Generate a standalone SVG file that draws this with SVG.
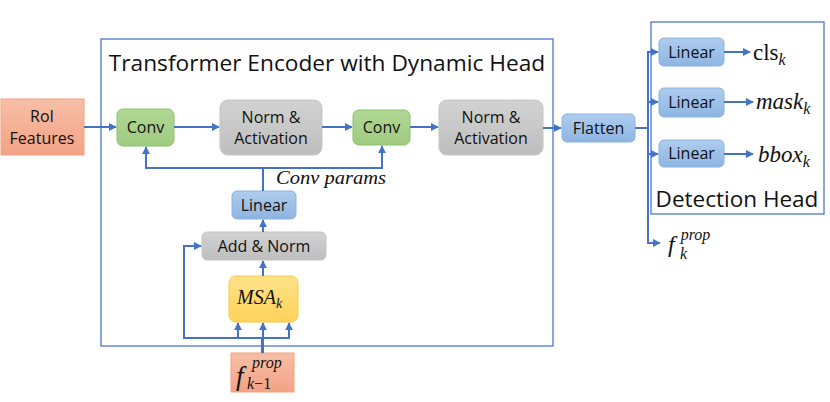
<svg xmlns="http://www.w3.org/2000/svg" width="830" height="402" viewBox="0 0 830 402">
<defs>
<linearGradient id="gSalmon" x1="0" y1="0" x2="0" y2="1"><stop offset="0" stop-color="#F7BFA6"/><stop offset="1" stop-color="#F3A285"/></linearGradient>
<linearGradient id="gGreen" x1="0" y1="0" x2="0" y2="1"><stop offset="0" stop-color="#B0D894"/><stop offset="1" stop-color="#9FCB80"/></linearGradient>
<linearGradient id="gGray" x1="0" y1="0" x2="0" y2="1"><stop offset="0" stop-color="#D2D2D2"/><stop offset="1" stop-color="#BEBEBE"/></linearGradient>
<linearGradient id="gBlue" x1="0" y1="0" x2="0" y2="1"><stop offset="0" stop-color="#AFCDEE"/><stop offset="1" stop-color="#8DB5E2"/></linearGradient>
<linearGradient id="gYellow" x1="0" y1="0" x2="0" y2="1"><stop offset="0" stop-color="#FFE28A"/><stop offset="1" stop-color="#FFD25A"/></linearGradient>
<marker id="ah" viewBox="0 0 10 10" refX="9" refY="5" markerWidth="4" markerHeight="4" orient="auto" markerUnits="strokeWidth">
<path d="M0,0 L10,5 L0,10 z" fill="#4472C4"/></marker>
</defs>
<style>
.frame{fill:none;stroke:#4A78C8;stroke-width:1.3}
.salmon{fill:url(#gSalmon);stroke:#F0A27E;stroke-width:1}
.green{fill:url(#gGreen);stroke:#8CC06A;stroke-width:1}
.gray{fill:url(#gGray);stroke:#C4C4C4;stroke-width:1}
.blue{fill:url(#gBlue);stroke:#8AB2E0;stroke-width:1}
.yellow{fill:url(#gYellow);stroke:#FFC83A;stroke-width:1}
.t{font-family:"Open Sans","Liberation Sans",sans-serif;font-size:16px;fill:#111;text-anchor:middle}
.big{font-family:"Open Sans","Liberation Sans",sans-serif;fill:#111}
.m{font-family:"Liberation Serif","DejaVu Serif",serif;font-style:italic;fill:#111}
.c{fill:none;stroke:#4472C4;stroke-width:2}
.ca{fill:none;stroke:#4472C4;stroke-width:2;marker-end:url(#ah)}
</style>

<g id="encoder-frame">
<rect class="frame" x="101" y="39" width="452" height="307"/>
<text class="big" x="327" y="71" font-size="22.7" text-anchor="middle">Transformer Encoder with Dynamic Head</text>
</g>
<g id="detection-head-frame">
<rect class="frame" x="651" y="22" width="173" height="192"/>
<text class="big" x="737" y="207" font-size="22.5" text-anchor="middle">Detection Head</text>
</g>

<g id="roi">
<rect class="salmon" x="1" y="99" width="83" height="56"/>
<text class="t" x="42" y="122">RoI</text>
<text class="t" x="42" y="144">Features</text>
</g>
<g id="conv1">
<rect class="green" x="117" y="109" width="57" height="37" rx="6"/>
<text class="t" x="145.5" y="133">Conv</text>
</g>
<g id="norm1">
<rect class="gray" x="220" y="100" width="102" height="55" rx="8"/>
<text class="t" x="271" y="123">Norm &amp;</text>
<text class="t" x="271" y="144">Activation</text>
</g>
<g id="conv2">
<rect class="green" x="353" y="110" width="57" height="35" rx="6"/>
<text class="t" x="381.5" y="133">Conv</text>
</g>
<g id="norm2">
<rect class="gray" x="439" y="100" width="104" height="55" rx="8"/>
<text class="t" x="491" y="123">Norm &amp;</text>
<text class="t" x="491" y="144">Activation</text>
</g>
<g id="flatten">
<rect class="blue" x="562" y="114" width="73" height="28" rx="5"/>
<text class="t" x="598.5" y="134">Flatten</text>
</g>
<g id="linear-cls">
<rect class="blue" x="659" y="38" width="65" height="28" rx="5"/>
<text class="t" x="691.5" y="58" font-size="15">Linear</text>
</g>
<g id="linear-mask">
<rect class="blue" x="659" y="88" width="65" height="29" rx="5"/>
<text class="t" x="691.5" y="108" font-size="15">Linear</text>
</g>
<g id="linear-bbox">
<rect class="blue" x="659" y="140" width="65" height="27" rx="5"/>
<text class="t" x="691.5" y="159" font-size="15">Linear</text>
</g>
<g id="out-cls">
<text x="753" y="60" font-family="Liberation Serif,serif" font-size="23" fill="#111">cls<tspan class="m" font-size="16" dy="5">k</tspan></text>
</g>
<g id="out-mask">
<text class="m" x="756" y="109" font-size="23">mask<tspan font-size="16" dy="5">k</tspan></text>
</g>
<g id="out-bbox">
<text class="m" x="758" y="162" font-size="23">bbox<tspan font-size="16" dy="5">k</tspan></text>
</g>
<g id="out-fprop">
<text class="m" x="668" y="252" font-size="24">f<tspan font-size="16" dx="6" dy="-12">prop</tspan></text>
<text class="m" x="680" y="259" font-size="16">k</text>
</g>

<g id="linear-enc">
<rect class="blue" x="232" y="191" width="64" height="28" rx="5"/>
<text class="t" x="264" y="211">Linear</text>
</g>
<g id="addnorm">
<rect class="gray" x="202" y="232" width="124" height="28" rx="5"/>
<text class="t" x="264" y="252">Add &amp; Norm</text>
</g>
<g id="msa">
<rect class="yellow" x="229" y="276" width="69" height="46" rx="7"/>
<text class="m" x="237" y="304" font-size="20">MSA<tspan font-size="14" dy="4">k</tspan></text>
</g>
<g id="fprev">
<rect class="salmon" x="231" y="353" width="63" height="39"/>
<text class="m" x="236" y="385" font-size="27">f</text>
<text class="m" x="252" y="368" font-size="16">prop</text>
<text class="m" x="247" y="389" font-size="16">k<tspan font-style="normal">−1</tspan></text>
</g>
<g id="label-conv-params">
<text class="m" x="276" y="184" font-size="19" textLength="110" lengthAdjust="spacingAndGlyphs">Conv params</text>
</g>

<g id="connectors">
<path class="ca" d="M84,127 H116"/>
<path class="ca" d="M174,127 H219"/>
<path class="ca" d="M322,127 H352"/>
<path class="ca" d="M410,127 H438"/>
<path class="ca" d="M543,128 H561"/>
<path class="c" d="M635,128 H648"/>
<path class="c" d="M648,52 V243"/>
<path class="ca" d="M647,52 H658"/>
<path class="ca" d="M648,102 H658"/>
<path class="ca" d="M648,154 H658"/>
<path class="ca" d="M647,243 H660"/>
<path class="ca" d="M724,52 H750"/>
<path class="ca" d="M724,102 H753"/>
<path class="ca" d="M724,154 H753"/>
<path class="c" d="M263,191 V168"/>
<path class="ca" d="M264,168 H146 V147"/>
<path class="ca" d="M262,168 H382 V146"/>
<path class="ca" d="M263,232 V220"/>
<path class="ca" d="M263,276 V261"/>
<path fill="none" stroke="#4472C4" stroke-width="3" d="M262.5,353 V337"/>
<path class="c" d="M289,338 H184 V246"/>
<path class="ca" d="M183,246 H201"/>
<path class="ca" d="M238,338 V323"/>
<path class="ca" d="M263,338 V323"/>
<path class="ca" d="M289,339 V323"/>
</g>
</svg>
